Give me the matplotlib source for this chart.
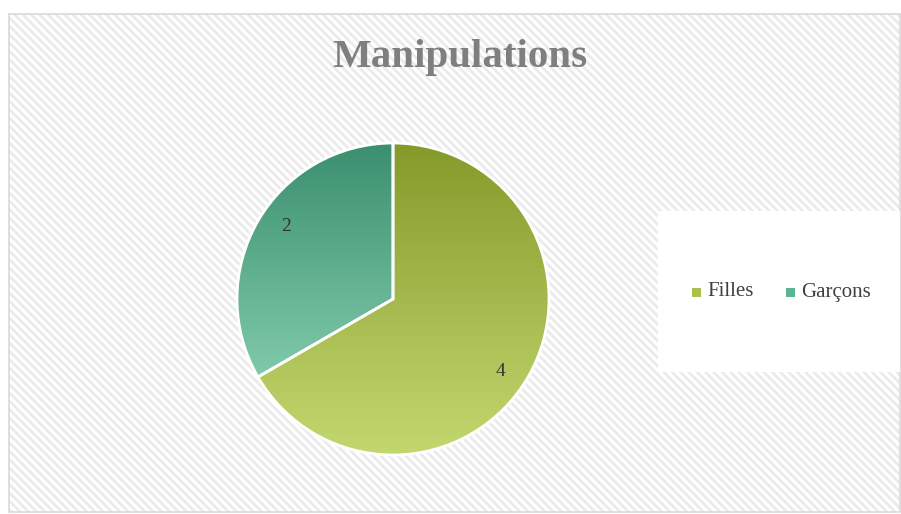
import numpy as np
import matplotlib.pyplot as plt
from matplotlib.patches import Rectangle
from matplotlib.colors import LinearSegmentedColormap

# données
categories = ['Filles', 'Garçons']
valeurs = [4, 2]
couleurs_haut = ['#849b2b', '#3b8f6e']
couleurs_bas = ['#c3d76f', '#7fcaab']
couleurs_legende = ['#a9c04b', '#5db492']

plt.rcParams['font.family'] = ['Liberation Serif', 'DejaVu Serif']

W, H = 901, 514
fig = plt.figure(figsize=(W / 100, H / 100), dpi=100)

# fond hachuré
bg = fig.add_axes([0, 0, 1, 1])
bg.set_xlim(0, W)
bg.set_ylim(H, 0)
bg.axis('off')
plt.rcParams['hatch.linewidth'] = 2.0
bg.add_patch(Rectangle((9, 14), 891, 498, facecolor='white', edgecolor='#ebebeb',
                       hatch='\\\\\\\\', linewidth=0))
bg.add_patch(Rectangle((9, 14), 891, 498, facecolor='none', edgecolor='#d9d9d9',
                       linewidth=1.2))
# zone de la légende
bg.add_patch(Rectangle((658, 211), 242, 161, facecolor='white', edgecolor='none'))

bg.text(460, 58, 'Manipulations', ha='center', va='center', fontsize=29.5,
        fontweight='bold', color='#7f7f7f')

# camembert
cx, cy, r = 393, 299, 156
m = 1.02
ax = fig.add_axes([(cx - r * m) / W, (H - cy - r * m) / H, 2 * r * m / W, 2 * r * m / H])
wedges, _ = ax.pie(valeurs, startangle=90, counterclock=False, radius=1,
                   wedgeprops=dict(facecolor='none', edgecolor='white', linewidth=2))

for w, c1, c2 in zip(wedges, couleurs_haut, couleurs_bas):
    ext = w.get_path().get_extents(w.get_patch_transform())
    cmap = LinearSegmentedColormap.from_list('g', [c1, c2])
    grad = np.linspace(0, 1, 256).reshape(-1, 1)
    im = ax.imshow(grad, cmap=cmap, aspect='auto', origin='upper',
                   extent=[ext.x0, ext.x1, ext.y0, ext.y1], zorder=0)
    im.set_clip_path(w)
    w.set_zorder(2)

ax.set_xlim(-m, m)
ax.set_ylim(-m, m)
ax.set_aspect('equal')

# étiquettes de valeurs (un peu décalées comme dans Excel)
for w, v in zip(wedges, valeurs):
    ang = np.deg2rad((w.theta1 + w.theta2) / 2 - 4)
    ax.text(0.83 * np.cos(ang), 0.83 * np.sin(ang), str(v), ha='center', va='center',
            fontsize=14, color='#333333')

# légende
for nom, col, x in zip(categories, couleurs_legende, [697, 791]):
    bg.add_patch(Rectangle((x - 5, 288), 9, 9, facecolor=col, edgecolor='none'))
    bg.text(x + 10, 292, nom, ha='left', va='center', fontsize=15, color='#404040')

fig.savefig('out.png', dpi=100)
